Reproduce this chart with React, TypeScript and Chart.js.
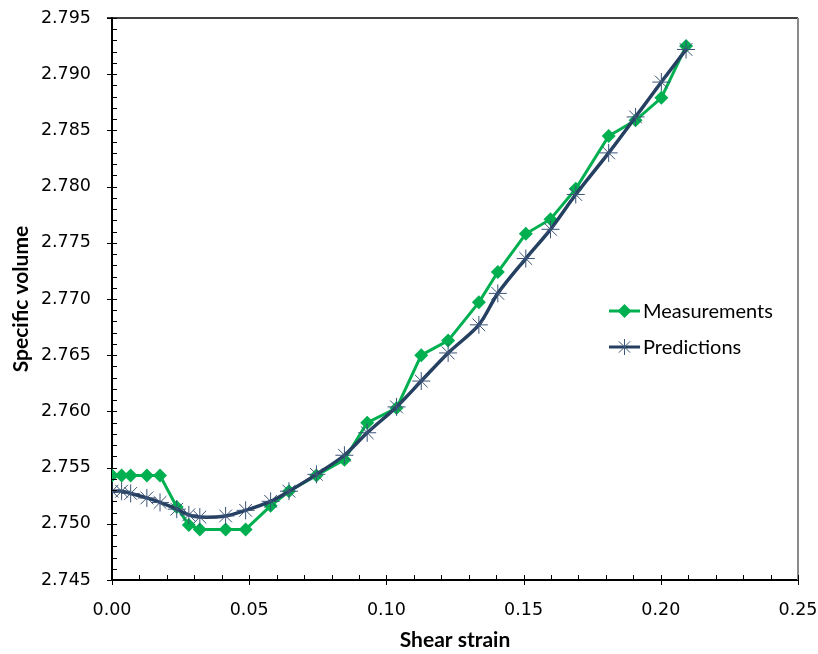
import React, { useEffect, useRef } from "react";
import { Chart, registerables } from "chart.js";

Chart.register(...registerables);

const shearStrain = [
  0.0, 0.0035, 0.0068, 0.0127, 0.0175, 0.0236, 0.028, 0.032, 0.0414, 0.0487,
  0.0578, 0.0645, 0.0745, 0.0847, 0.093, 0.1037, 0.1127, 0.1225, 0.1337,
  0.1406, 0.1508, 0.1598, 0.169, 0.181, 0.1908, 0.2002, 0.2092,
];
const measurements = [
  2.7543, 2.7543, 2.7543, 2.7543, 2.7543, 2.7515, 2.7499, 2.7495, 2.7495,
  2.7495, 2.7516, 2.7529, 2.7543, 2.7557, 2.759, 2.7603, 2.765, 2.7663,
  2.7697, 2.7724, 2.7758, 2.7771, 2.7798, 2.7845, 2.7859, 2.7879, 2.7925,
];
const predictions = [
  2.7529, 2.7529, 2.7527, 2.7523, 2.7519, 2.7513, 2.7508, 2.7506, 2.7507,
  2.7512, 2.752, 2.7529, 2.7544, 2.7561, 2.7581, 2.7604, 2.7627, 2.7652,
  2.7677, 2.7705, 2.7736, 2.7762, 2.7793, 2.783, 2.7862, 2.7893, 2.7922,
];
const seriesNames = ["Measurements", "Predictions"];
const xTitle = "Shear strain";
const yTitle = "Specific volume";

const GREEN = "#00B050";
const NAVY = "#243F60";

const frameAndTicks = {
  id: "frameAndTicks",
  afterDatasetsDraw(chart: any) {
    const { ctx, chartArea, scales } = chart;
    ctx.save();
    // top and right frame
    ctx.strokeStyle = "#000";
    ctx.lineWidth = 1.5;
    ctx.beginPath();
    ctx.moveTo(chartArea.left - 5, chartArea.top);
    ctx.lineTo(chartArea.right, chartArea.top);
    ctx.stroke();
    ctx.strokeStyle = "#8a8a8a";
    ctx.lineWidth = 2;
    ctx.beginPath();
    ctx.moveTo(chartArea.right, chartArea.top);
    ctx.lineTo(chartArea.right, chartArea.bottom);
    ctx.stroke();

    ctx.strokeStyle = "#000";
    ctx.lineWidth = 1;
    ctx.beginPath();
    for (let i = 0; i <= 50; i++) {
      const v = 2.745 + i * 0.001;
      const y = Math.round(scales.y.getPixelForValue(v)) + 0.5;
      const major = i % 5 === 0;
      ctx.moveTo(chartArea.left - (major ? 5 : 0), y);
      ctx.lineTo(chartArea.left + 5, y);
    }
    for (let i = 0; i <= 25; i++) {
      const v = i * 0.01;
      const x = Math.round(scales.x.getPixelForValue(v)) + 0.5;
      const major = i % 5 === 0;
      ctx.moveTo(x, chartArea.bottom + (major ? 5 : 0));
      ctx.lineTo(x, chartArea.bottom - 5);
    }
    ctx.stroke();
    ctx.restore();
  },
};

const insideLegend = {
  id: "insideLegend",
  afterDraw(chart: any) {
    const { ctx } = chart;
    ctx.save();
    const items = [
      { name: seriesNames[0], color: GREEN, style: "diamond", y: 311 },
      { name: seriesNames[1], color: NAVY, style: "star", y: 347 },
    ];
    for (const it of items) {
      const x0 = 609;
      const x1 = 640;
      const cx = (x0 + x1) / 2;
      ctx.strokeStyle = it.color;
      ctx.lineWidth = 3;
      ctx.beginPath();
      ctx.moveTo(x0, it.y);
      ctx.lineTo(x1, it.y);
      ctx.stroke();
      if (it.style === "diamond") {
        ctx.fillStyle = it.color;
        ctx.beginPath();
        ctx.moveTo(cx, it.y - 7);
        ctx.lineTo(cx + 7, it.y);
        ctx.lineTo(cx, it.y + 7);
        ctx.lineTo(cx - 7, it.y);
        ctx.closePath();
        ctx.fill();
      } else {
        ctx.strokeStyle = "#3B5478";
        ctx.lineWidth = 1;
        const r = 8;
        ctx.beginPath();
        ctx.moveTo(cx, it.y - r);
        ctx.lineTo(cx, it.y + r);
        const d = r * Math.SQRT1_2;
        ctx.moveTo(cx - d, it.y - d);
        ctx.lineTo(cx + d, it.y + d);
        ctx.moveTo(cx - d, it.y + d);
        ctx.lineTo(cx + d, it.y - d);
        ctx.stroke();
      }
      ctx.fillStyle = "#000";
      ctx.font = "20px Lato, 'Open Sans', sans-serif";
      ctx.textBaseline = "middle";
      ctx.textAlign = "left";
      ctx.fillText(it.name, 643, it.y + 1);
    }
    ctx.restore();
  },
};

export default function App() {
  const ref = useRef<HTMLCanvasElement>(null);
  useEffect(() => {
    document.body.style.margin = "0";
    const canvas = ref.current!;
    const chart = new Chart(canvas, {
      type: "line",
      data: {
        datasets: [
          {
            label: seriesNames[0],
            data: shearStrain.map((x, i) => ({ x, y: measurements[i] })),
            borderColor: GREEN,
            backgroundColor: GREEN,
            borderWidth: 3,
            pointStyle: "rectRot",
            pointRadius: 7,
            pointBorderWidth: 0,
            tension: 0,
            order: 1,
          },
          {
            label: seriesNames[1],
            data: shearStrain.map((x, i) => ({ x, y: predictions[i] })),
            borderColor: NAVY,
            backgroundColor: NAVY,
            borderWidth: 3.5,
            pointStyle: "star",
            pointRadius: 9,
            pointBorderWidth: 1,
            pointBorderColor: "#3B5478",
            tension: 0.3,
            order: 0,
          },
        ],
      },
      options: {
        animation: false,
        responsive: false,
        layout: { padding: { top: 18, right: 20, left: 0, bottom: 0 } },
        plugins: {
          legend: { display: false },
          tooltip: { enabled: false },
        },
        scales: {
          x: {
            type: "linear",
            min: 0,
            max: 0.25,
            afterFit: (s: any) => {
              s.height = 74;
            },
            ticks: {
              stepSize: 0.05,
              color: "#000",
              padding: 0,
              font: { family: "'DejaVu Sans'", size: 17.5 },
              callback: (v: any) => Number(v).toFixed(2),
            },
            grid: {
              drawOnChartArea: false,
              drawTicks: true,
              tickLength: 20,
              color: "rgba(0,0,0,0)",
            },
            border: { display: true, color: "#000", width: 2 },
            title: {
              display: true,
              text: xTitle,
              color: "#000",
              font: { family: "Lato", size: 21, weight: "bold" },
              padding: { top: 0, bottom: 1 },
            },
          },
          y: {
            type: "linear",
            min: 2.745,
            max: 2.795,
            afterFit: (s: any) => {
              s.width = 112;
            },
            ticks: {
              stepSize: 0.005,
              color: "#000",
              padding: 0,
              font: { family: "'DejaVu Sans'", size: 17.5 },
              callback: (v: any) => Number(v).toFixed(3),
            },
            grid: {
              drawOnChartArea: false,
              drawTicks: true,
              tickLength: 21,
              color: "rgba(0,0,0,0)",
            },
            border: { display: true, color: "#000", width: 2 },
            title: {
              display: true,
              text: yTitle,
              color: "#000",
              font: { family: "Lato", size: 21, weight: "bold" },
              padding: { top: 9, bottom: 0 },
            },
          },
        },
      },
      plugins: [frameAndTicks, insideLegend],
    });
    return () => chart.destroy();
  }, []);
  return <canvas ref={ref} width={818} height={654} style={{ display: "block" }} />;
}
